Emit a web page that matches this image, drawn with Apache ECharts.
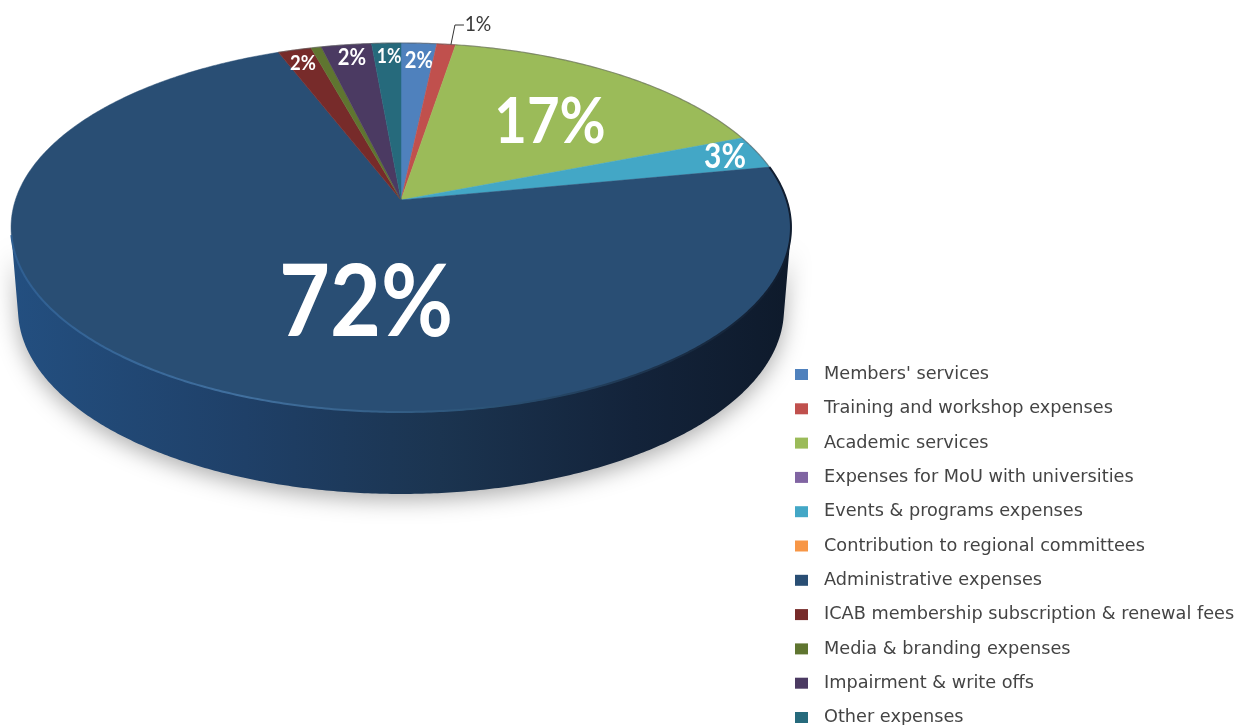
<!DOCTYPE html>
<html>
<head>
<meta charset="utf-8">
<title>Expenses</title>
<script src="https://cdn.jsdelivr.net/npm/echarts@6/dist/echarts.min.js"></script>
<style>
  html, body { margin: 0; padding: 0; background: #fff; }
  #chart { width: 1254px; height: 725px; }
</style>
</head>
<body>
<div id="chart"></div>
<script>
// data
const categories = ["Members' services", 'Training and workshop expenses', 'Academic services',
  'Expenses for MoU with universities', 'Events & programs expenses', 'Contribution to regional committees',
  'Administrative expenses', 'ICAB membership subscription & renewal fees', 'Media & branding expenses',
  'Impairment & write offs', 'Other expenses'];
const shares = [1.7, 0.9, 16.5, 0, 2.9, 0, 72.1, 1.6, 0.5, 2.4, 1.4];
const shareLabels = ['2%', '1%', '17%', '', '3%', '', '72%', '2%', '', '2%', '1%'];
const colors = ['#4f81bd', '#c0504d', '#9bbb59', '#8064a2', '#43a7c6', '#f79646',
  '#294e74', '#772b2a', '#5f7530', '#4b3a62', '#266a7c'];

// where each label sits: [x, y, font size, weight]
const labelLayout = [
  [419, 61, 23, 700], [478, 24, 22, 400], [550, 122, 64, 700], null, [725, 157, 34, 700], null,
  [366, 304, 100, 700], [303, 63, 21, 700], null, [352, 58, 23, 700], [389, 57, 20, 700]
];
const labelSqueeze = 0.88;

// tilted disc: the centre of the pie is seen above the centre of the ellipse
const cx = 401, apexY = 200, spanX = 385.6, spanY = 180.4, tilt = -0.149;
const wallDrop = 82, wallShrink = 0.982;
const wallFrom = 0.2803, wallTo = 0.7197; // part of the rim facing the viewer

function project(t) {
  const a = t * Math.PI * 2, u = Math.sin(a), v = -Math.cos(a), d = 1 + tilt * v;
  return [cx + spanX * u / d, apexY + spanY * v / d];
}
function lowered(p) {
  return [cx + (p[0] - cx) * wallShrink, p[1] + wallDrop];
}
function arc(t0, t1) {
  const pts = [], n = Math.max(2, Math.ceil((t1 - t0) * 720));
  for (let i = 0; i <= n; i++) pts.push(project(t0 + (t1 - t0) * i / n));
  return pts;
}

const wallFill = new echarts.graphic.LinearGradient(0, 0, 1, 0, [
  { offset: 0, color: '#234f80' }, { offset: 0.3, color: '#1f4068' },
  { offset: 0.55, color: '#1b3450' }, { offset: 0.8, color: '#13233a' }, { offset: 1, color: '#0e1a2b' }
]);
const rimFill = new echarts.graphic.LinearGradient(0, 0, 1, 0, [
  { offset: 0, color: '#2f5f92' }, { offset: 0.3, color: '#41709f' },
  { offset: 0.6, color: '#2c5478' }, { offset: 0.85, color: '#1a2e46' }, { offset: 1, color: '#101c2e' }
]);

function renderSlice(params, api) {
  const t0 = api.value(0) / 100, t1 = api.value(1) / 100;
  const idx = params.seriesIndex, children = [];
  if (t1 <= t0) return { type: 'group', children };

  const from = Math.max(t0, wallFrom), to = Math.min(t1, wallTo);
  if (to > from) {
    const top = arc(from, to);
    children.push({
      type: 'polygon',
      shape: { points: top.concat(top.slice().reverse().map(lowered)) },
      style: { fill: wallFill, shadowColor: 'rgba(0,0,0,0.32)', shadowBlur: 22, shadowOffsetY: 6 },
      silent: true
    });
  }
  children.push({
    type: 'polygon',
    shape: { points: [[cx, apexY]].concat(arc(t0, t1)) },
    style: { fill: colors[idx], stroke: colors[idx], lineWidth: 0.5 }
  });
  children.push({
    type: 'polyline', silent: true,
    shape: { points: to > from ? arc(t0, to) : arc(t0, t1) },
    style: { stroke: to > from ? rimFill : 'rgba(90,90,90,0.55)', lineWidth: to > from ? 2 : 1.2, fill: null }
  });

  const spot = labelLayout[idx];
  if (spot) {
    const inside = spot[3] === 700;
    children.push({
      type: 'text', silent: true,
      scaleX: labelSqueeze, originX: spot[0], originY: spot[1],
      style: {
        x: spot[0], y: spot[1], text: shareLabels[idx], fill: inside ? '#fff' : '#3a3a3a',
        font: spot[3] + ' ' + spot[2] + 'px Lato', textAlign: 'center', textVerticalAlign: 'middle'
      }
    });
    if (!inside) {
      const out = project(t0 + (t1 - t0) * 0.75);
      children.push({
        type: 'polyline', silent: true,
        shape: { points: [out, [out[0] + 4, 25], [out[0] + 13, 25]] },
        style: { stroke: '#333', lineWidth: 1, fill: null }
      });
    }
  }
  return { type: 'group', children };
}

let running = 0;
const series = categories.map((name, i) => {
  const start = running;
  running += shares[i];
  return {
    name, type: 'custom', coordinateSystem: 'none', renderItem: renderSlice,
    itemStyle: { color: colors[i] }, silent: true, animation: false,
    data: [[start, running]]
  };
});

const chart = echarts.init(document.getElementById('chart'));
chart.setOption({
  backgroundColor: '#fff',
  animation: false,
  legend: {
    orient: 'vertical', left: 790, top: 359, height: 500, padding: 5,
    itemWidth: 13, itemHeight: 11, itemGap: 13.3, icon: 'rect',
    data: categories,
    selectedMode: false,
    textStyle: { color: '#444', fontFamily: 'DejaVu Sans', fontSize: 17.7, height: 21, lineHeight: 21, padding: [0, 0, 0, 11] }
  },
  series
});
</script>
</body>
</html>
